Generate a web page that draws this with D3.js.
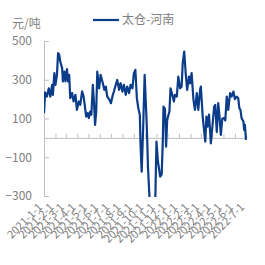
<!DOCTYPE html>
<html>
<head>
<meta charset="utf-8">
<script src="https://cdn.jsdelivr.net/npm/d3@7"></script>
<style>
  body { margin: 0; background: #fff; }
  text { font-family: "Noto Sans CJK SC", "Noto Sans", sans-serif; }
</style>
</head>
<body>
<div id="chart"></div>
<script>
// series: 太仓-河南 (元/吨)
const dates = [
  '2021-01-01', '2021-01-04', '2021-01-09', '2021-01-14', '2021-01-18', '2021-01-23', '2021-01-25', '2021-01-29',
  '2021-02-01', '2021-02-05', '2021-02-08', '2021-02-11', '2021-02-14', '2021-02-19', '2021-02-21', '2021-02-25',
  '2021-02-28', '2021-03-04', '2021-03-07', '2021-03-10', '2021-03-13', '2021-03-18', '2021-03-22', '2021-03-27',
  '2021-03-31', '2021-04-05', '2021-04-09', '2021-04-14', '2021-04-18', '2021-04-21', '2021-04-25', '2021-04-29',
  '2021-05-02', '2021-05-06', '2021-05-09', '2021-05-13', '2021-05-16', '2021-05-19', '2021-05-22', '2021-05-25',
  '2021-05-30', '2021-06-03', '2021-06-09', '2021-06-13', '2021-06-17', '2021-06-21', '2021-06-26', '2021-07-01',
  '2021-07-06', '2021-07-09', '2021-07-14', '2021-07-18', '2021-07-23', '2021-07-27', '2021-08-01', '2021-08-05',
  '2021-08-10', '2021-08-14', '2021-08-19', '2021-08-23', '2021-08-28', '2021-09-01', '2021-09-05', '2021-09-09',
  '2021-09-13', '2021-09-17', '2021-09-19', '2021-09-22', '2021-09-26', '2021-09-30', '2021-10-05', '2021-10-07',
  '2021-10-09', '2021-10-13', '2021-10-16', '2021-10-20', '2021-10-25', '2021-10-29', '2021-11-01', '2021-11-05',
  '2021-11-11', '2021-11-15', '2021-11-18', '2021-11-20', '2021-11-24', '2021-11-27', '2021-11-30', '2021-12-06',
  '2021-12-09', '2021-12-15', '2021-12-18', '2021-12-21', '2021-12-26', '2021-12-30', '2022-01-04', '2022-01-08',
  '2022-01-11', '2022-01-15', '2022-01-19', '2022-01-23', '2022-01-28', '2022-01-31', '2022-02-04', '2022-02-09',
  '2022-02-13', '2022-02-18', '2022-02-22', '2022-02-27', '2022-03-01', '2022-03-06', '2022-03-10', '2022-03-13',
  '2022-03-16', '2022-03-19', '2022-03-23', '2022-03-28', '2022-04-02', '2022-04-06', '2022-04-09', '2022-04-13',
  '2022-04-17', '2022-04-20', '2022-04-24', '2022-04-28', '2022-05-03', '2022-05-06', '2022-05-10', '2022-05-14',
  '2022-05-19', '2022-05-23', '2022-05-28', '2022-06-01', '2022-06-06', '2022-06-10', '2022-06-13', '2022-06-16',
  '2022-06-19', '2022-06-24', '2022-06-26', '2022-06-28', '2022-07-01',
];

const values = [
  128, 235, 213, 256, 213, 274, 222, 334,
  274, 325, 437, 430, 394, 360, 291, 342,
  291, 355, 291, 325, 205, 231, 188, 222,
  145, 188, 170, 240, 213, 170, 110, 128,
  102, 136, 119, 274, 188, 67, 130, 342,
  256, 325, 282, 248, 265, 213, 200, 179,
  222, 239, 274, 299, 248, 282, 239, 274,
  222, 265, 231, 274, 256, 334, 351, 205,
  153, 119, -36, -174, 50, 325, 102, -10,
  -150, -300, -380, -420, -360, -300, -19, -122,
  -200, -190, -28, 162, 150, -45, 93, 136,
  256, 213, 188, 222, 213, 316, 256, 265,
  386, 445, 334, 248, 316, 282, 334, 196,
  145, 231, 145, 248, 265, 110, 33, -19,
  110, 58, 120, -28, 76, 162, 170, 30,
  179, 119, 15, 100, 102, 90, 213, 145,
  231, 213, 239, 200, 213, 205, 153, 145,
  102, 84, 41, 67, -10,
];

const yTicks = [500, 300, 100, -100, -300];
const seriesName = '太仓-河南';
const unitLabel = '元/吨';
const axisStart = '2021-01-01';
const axisEnd = '2022-07-01';

const width = 265;
const height = 265;
const margin = { top: 41, right: 19, bottom: 69, left: 44 };
const lineColor = '#0b3c8a';
const textColor = '#808080';
const axisColor = '#bfbfbf';

const parse = d3.timeParse('%Y-%m-%d');
const data = dates.map((d, i) => ({ date: parse(d), value: values[i] }));

const svg = d3.select('#chart')
  .append('svg')
  .attr('width', width)
  .attr('height', height);

const x = d3.scaleTime()
  .domain([parse(axisStart), parse(axisEnd)])
  .range([margin.left, width - margin.right]);

const y = d3.scaleLinear()
  .domain([-300, 500])
  .range([height - margin.bottom, margin.top]);

// clip the line to the plot area (values below -300 get cut off)
svg.append('clipPath')
  .attr('id', 'plot-clip')
  .append('rect')
  .attr('x', margin.left)
  .attr('y', margin.top - 5)
  .attr('width', width - margin.left - margin.right + 5)
  .attr('height', y(-300) - margin.top + 6);

// y axis
const yAxis = svg.append('g')
  .attr('transform', `translate(${margin.left},0)`)
  .call(d3.axisLeft(y)
    .tickValues(yTicks)
    .tickSize(-5)
    .tickPadding(12));
yAxis.select('.domain').attr('stroke', axisColor);
yAxis.selectAll('.tick line').attr('stroke', axisColor);
yAxis.selectAll('.tick text')
  .attr('fill', textColor)
  .style('font-size', '12px');

// x axis sits on zero, labels go to the bottom
const months = d3.timeMonth.range(parse(axisStart), d3.timeDay.offset(parse(axisEnd), 1));
const xAxis = svg.append('g')
  .attr('transform', `translate(0,${y(0)})`)
  .call(d3.axisBottom(x)
    .tickValues(months)
    .tickSize(-4)
    .tickSizeOuter(0)
    .tickFormat(''));
xAxis.select('.domain').attr('stroke', axisColor);
xAxis.selectAll('.tick line').attr('stroke', axisColor);

const fmt = d => `${d.getFullYear()}-${d.getMonth() + 1}-${d.getDate()}`;
svg.append('g')
  .selectAll('text')
  .data(months)
  .enter()
  .append('text')
  .attr('transform', d => `translate(${x(d) - 1},${y(-300) + 12}) rotate(-45)`)
  .attr('text-anchor', 'end')
  .attr('fill', textColor)
  .style('font-size', '11px')
  .text(fmt);

// series line
svg.append('path')
  .datum(data)
  .attr('clip-path', 'url(#plot-clip)')
  .attr('fill', 'none')
  .attr('stroke', lineColor)
  .attr('stroke-width', 2.2)
  .attr('stroke-linejoin', 'round')
  .attr('d', d3.line()
    .x(d => x(d.date))
    .y(d => y(d.value)));

// unit label
svg.append('text')
  .attr('x', 12)
  .attr('y', 28)
  .attr('fill', textColor)
  .style('font-size', '12px')
  .text(unitLabel);

// legend
const legend = svg.append('g').attr('transform', 'translate(93,20)');
legend.append('line')
  .attr('x1', 0)
  .attr('x2', 26)
  .attr('stroke', lineColor)
  .attr('stroke-width', 2.2);
legend.append('text')
  .attr('x', 29)
  .attr('dy', '0.35em')
  .attr('fill', textColor)
  .style('font-size', '12px')
  .text(seriesName);
</script>
</body>
</html>
